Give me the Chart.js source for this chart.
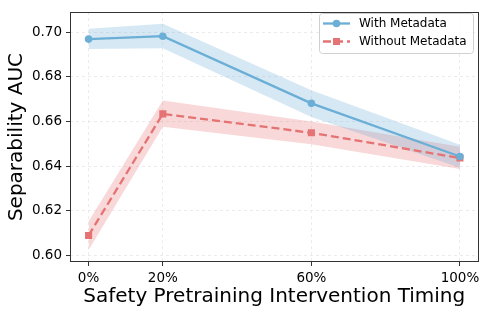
<!DOCTYPE html>
<html>
<head>
<meta charset="utf-8">
<script src="https://cdn.jsdelivr.net/npm/chart.js@4"></script>
<style>
  html, body { margin: 0; padding: 0; background: #fff; }
  #wrap { width: 488px; height: 314px; }
</style>
</head>
<body>
<div id="wrap"><canvas id="chartCanvas" width="488" height="314"></canvas></div>
<script>
// ------- Data -------
const timing = [0, 20, 60, 100];          // % of pretraining
const xTicks = [0, 20, 60, 100];
const yTicks = [0.60, 0.62, 0.64, 0.66, 0.68, 0.70];

const withMeta = [0.6969, 0.6982, 0.6681, 0.6443];
const withMetaUpper = [0.7015, 0.7038, 0.6740, 0.6495];
const withMetaLower = [0.6925, 0.6928, 0.6620, 0.6392];

const withoutMeta = [0.6089, 0.6634, 0.6549, 0.6436];
const withoutMetaUpper = [0.6152, 0.6694, 0.6600, 0.6486];
const withoutMetaLower = [0.6024, 0.6576, 0.6498, 0.6387];

// ------- Helpers -------
const BLUE = "#6baed6";
const RED = "#e57373";
const FONT = "DejaVu Sans";
const RED_DASH = [8, 4];

function pts(ys) {
  return timing.map((x, i) => ({ x: x, y: ys[i] }));
}

function band(ys, color, fill) {
  return {
    data: pts(ys),
    borderColor: "rgba(0,0,0,0)",
    borderWidth: 0,
    pointRadius: 0,
    backgroundColor: color,
    fill: fill,
    order: 2,
  };
}

// frame + legend drawn inside the plot, matplotlib style
const framePlugin = {
  id: "frame",
  afterDraw(chart) {
    const { ctx, chartArea: a } = chart;
    ctx.save();
    ctx.strokeStyle = "#333";
    ctx.lineWidth = 1;
    ctx.strokeRect(Math.round(a.left) + 0.5, Math.round(a.top) + 0.5,
      Math.round(a.right - a.left) - 1, Math.round(a.bottom - a.top) - 1);

    // legend
    const bx = 319, by = 13, bw = 154, bh = 40;
    ctx.fillStyle = "rgba(255,255,255,0.85)";
    ctx.strokeStyle = "#d0d0d0";
    ctx.beginPath();
    ctx.roundRect(bx + 0.5, by + 0.5, bw, bh, 3);
    ctx.fill();
    ctx.stroke();

    const items = [
      { label: "With Metadata", color: BLUE, dash: [], marker: "circle", y: 23.5 },
      { label: "Without Metadata", color: RED, dash: RED_DASH, marker: "rect", y: 41.5 },
    ];
    items.forEach((it) => {
      ctx.strokeStyle = it.color;
      ctx.lineWidth = 2.3;
      ctx.setLineDash(it.dash);
      ctx.beginPath();
      ctx.moveTo(323, it.y);
      ctx.lineTo(350, it.y);
      ctx.stroke();
      ctx.setLineDash([]);
      ctx.fillStyle = it.color;
      if (it.marker === "circle") {
        ctx.beginPath();
        ctx.arc(336.5, it.y, 3.8, 0, Math.PI * 2);
        ctx.fill();
      } else {
        ctx.fillRect(333, it.y - 3.5, 7, 7);
      }
      ctx.fillStyle = "#000";
      ctx.font = `12px "${FONT}"`;
      ctx.textBaseline = "middle";
      ctx.textAlign = "left";
      ctx.fillText(it.label, 359, it.y + 0.5);
    });
    ctx.restore();
  },
};

// ------- Chart Rendering -------
const ctx = document.getElementById("chartCanvas").getContext("2d");
new Chart(ctx, {
  type: "line",
  data: {
    datasets: [
      {
        label: "With Metadata",
        data: pts(withMeta),
        borderColor: BLUE,
        backgroundColor: BLUE,
        borderWidth: 2.3,
        pointStyle: "circle",
        pointRadius: 3.8,
        pointBorderWidth: 0,
        fill: false,
        order: 1,
      },
      {
        label: "Without Metadata",
        data: pts(withoutMeta),
        borderColor: RED,
        backgroundColor: RED,
        borderWidth: 2.3,
        borderDash: RED_DASH,
        pointStyle: "rect",
        pointRadius: 5,
        pointBorderWidth: 0,
        fill: false,
        order: 1,
      },
      band(withMetaUpper, "rgba(107,174,214,0.28)", "+1"),
      band(withMetaLower, "rgba(107,174,214,0.28)", false),
      band(withoutMetaUpper, "rgba(229,115,115,0.28)", "+1"),
      band(withoutMetaLower, "rgba(229,115,115,0.28)", false),
    ],
  },
  options: {
    responsive: false,
    animation: false,
    devicePixelRatio: 1,
    layout: { padding: { top: 7, right: 9.5, left: 0, bottom: 0 } },
    plugins: {
      legend: { display: false },
      tooltip: { enabled: false },
    },
    scales: {
      x: {
        type: "linear",
        min: -5,
        max: 105,
        afterBuildTicks: (s) => { s.ticks = xTicks.map((v) => ({ value: v })); },
        afterFit: (s) => { s.height = 52; },
        ticks: {
          callback: (v) => v + "%",
          font: { family: FONT, size: 13.5 },
          color: "#000",
          padding: 4,
          maxRotation: 0,
        },
        grid: { color: "#e6e6e6", lineWidth: 0.8, tickColor: "#333", tickLength: 4, tickWidth: 1, tickBorderDash: [] },
        border: { display: false, dash: [3, 3] },
        title: {
          display: true,
          text: "Safety Pretraining Intervention Timing",
          font: { family: FONT, size: 20 },
          color: "#000",
          padding: { top: 0, bottom: 5 },
        },
      },
      y: {
        min: 0.597,
        max: 0.709,
        afterBuildTicks: (s) => { s.ticks = yTicks.map((v) => ({ value: v })); },
        afterFit: (s) => { s.width = 70; },
        ticks: {
          callback: (v) => v.toFixed(2),
          font: { family: FONT, size: 13.5 },
          color: "#000",
          padding: 4,
        },
        grid: { color: "#e6e6e6", lineWidth: 0.8, tickColor: "#333", tickLength: 4, tickWidth: 1, tickBorderDash: [] },
        border: { display: false, dash: [3, 3] },
        title: {
          display: true,
          text: "Separability AUC",
          font: { family: FONT, size: 20 },
          color: "#000",
          padding: { top: 5, bottom: 0 },
        },
      },
    },
  },
  plugins: [framePlugin],
});
</script>
</body>
</html>
